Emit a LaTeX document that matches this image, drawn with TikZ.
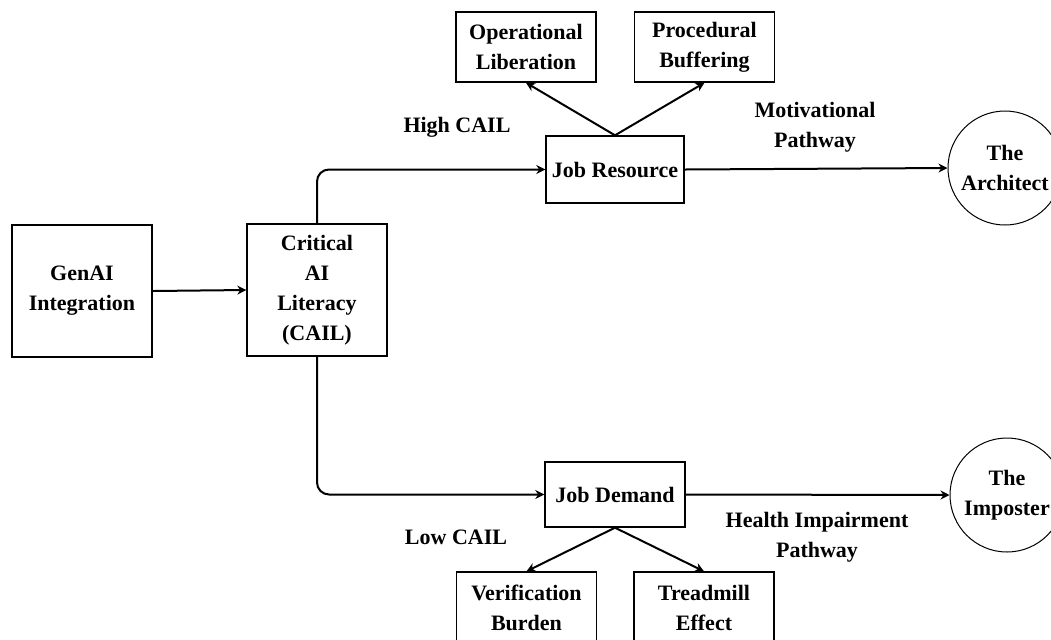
\documentclass[tikz,border=0pt]{standalone}
\usepackage{fontspec}
\setmainfont{Liberation Serif}
\usetikzlibrary{arrows.meta}
\begin{document}
\begin{tikzpicture}[x=0.5pt,y=-0.5pt,
  every node/.style={font=\fontsize{11}{15}\selectfont\bfseries, align=center},
  box/.style={draw, line width=0.7pt, inner sep=0pt},
  circ/.style={draw, circle, line width=0.5pt, minimum size=57pt, inner sep=0pt},
  conn/.style={line width=1pt, -{Stealth[length=4.5pt,width=4.5pt]}},
  lbl/.style={inner sep=0pt}]
\useasboundingbox (0,0) rectangle (1051,639);
\clip (0,0) rectangle (1051,639);
\node[box, minimum width=70pt, minimum height=66pt] (gen) at (82,291) {GenAI\\Integration};
\node[box, minimum width=70pt, minimum height=66pt] (cail) at (317,290) {Critical\\AI\\Literacy\\(CAIL)};
\node[box, minimum width=69pt, minimum height=33.5pt] (jr) at (615,169.5) {Job Resource};
\node[box, minimum width=70pt, minimum height=35pt] (ol) at (526,47) {Operational\\Liberation};
\node[box, minimum width=70pt, minimum height=35pt] (pb) at (704.5,47) {Procedural\\Buffering};
\node[box, minimum width=70pt, minimum height=32.5pt] (jd) at (615,494.5) {Job Demand};
\node[box, minimum width=70pt, minimum height=36pt] (vb) at (526.5,608) {Verification\\Burden};
\node[box, minimum width=70pt, minimum height=36pt] (te) at (704,608) {Treadmill\\Effect};
\node[circ] (arch) at (1005,168) {The\\Architect};
\node[circ] (imp) at (1007,495) {The\\Imposter};
\node[lbl] (hi) at (457,127) {High CAIL};
\node[lbl] (lo) at (456,537) {Low CAIL};
\node[lbl] (mot) at (815,127) {Motivational\\Pathway};
\node[lbl] (hip) at (817,537) {Health Impairment\\Pathway};
\draw[conn] (gen.east) -- (cail.west);
\draw[conn, rounded corners=6pt] (cail.north) |- (jr.west);
\draw[conn, rounded corners=6pt] (cail.south) |- (jd.west);
\draw[conn] (jr.north) -- (ol.south);
\draw[conn] (jr.north) -- (pb.south);
\draw[conn] (jd.south) -- (vb.north);
\draw[conn] (jd.south) -- (te.north);
\draw[conn] (jr.east) -- (arch.west);
\draw[conn] (jd.east) -- (imp.west);
\end{tikzpicture}
\end{document}
